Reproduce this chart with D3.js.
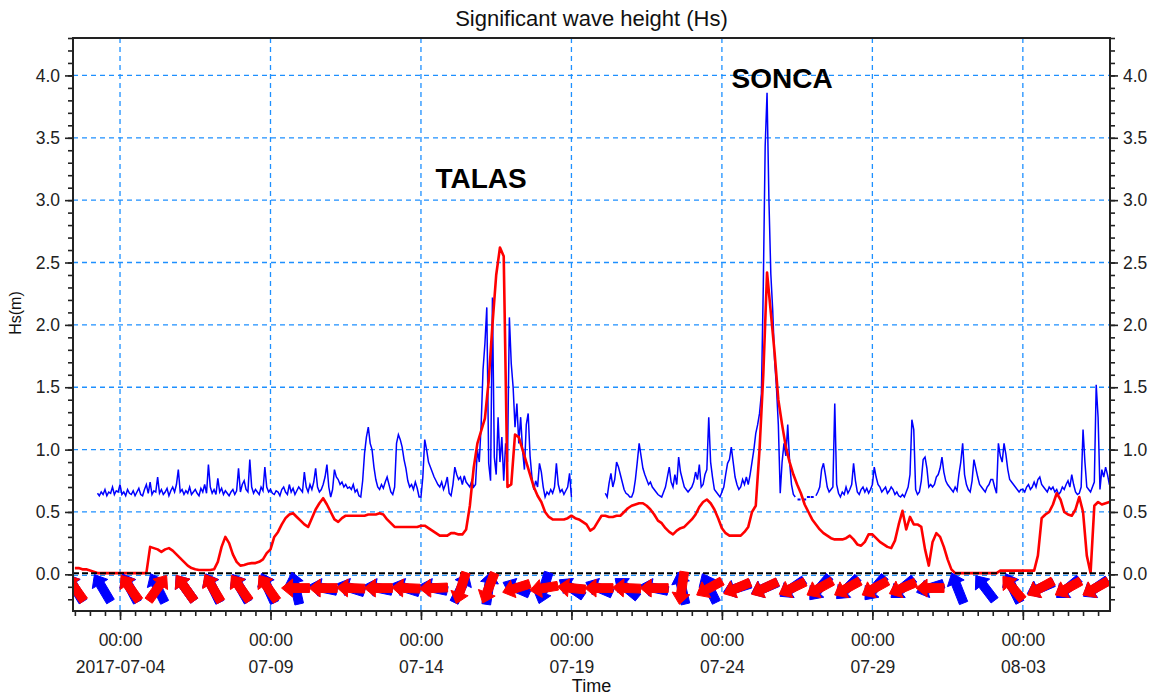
<!DOCTYPE html>
<html>
<head>
<meta charset="utf-8">
<script src="https://cdn.jsdelivr.net/npm/d3@7"></script>
<style>
  body { margin: 0; background: #fff; }
  svg { display: block; font-family: "Liberation Sans", Arial, sans-serif; }
</style>
</head>
<body>
<div id="chart"></div>
<script>
// Hs model (red), 3-hourly from 2017-07-02 12:00
const redStart = new Date(2017, 6, 2, 12);
const redStepHours = 3;
const redHs = [
  0.05, 0.05, 0.04, 0.04,
  0.03, 0.02, 0.01, 0.01, 0.01, 0.01, 0.01, 0.01,
  0.01, 0.01, 0.01, 0.01, 0.01, 0.01, 0.01, 0.01,
  0.22, 0.21, 0.2, 0.18, 0.2, 0.21, 0.19, 0.16,
  0.13, 0.1, 0.07, 0.05, 0.04, 0.035, 0.035, 0.035,
  0.035, 0.04, 0.1, 0.22, 0.3, 0.25, 0.16, 0.1,
  0.07, 0.075, 0.085, 0.09, 0.09, 0.1, 0.12, 0.17,
  0.2, 0.3, 0.34, 0.4, 0.45, 0.48, 0.49, 0.46,
  0.43, 0.4, 0.38, 0.45, 0.52, 0.57, 0.61, 0.56,
  0.5, 0.44, 0.42, 0.45, 0.47, 0.47, 0.47, 0.47,
  0.47, 0.47, 0.48, 0.48, 0.48, 0.49, 0.48, 0.44,
  0.41, 0.38, 0.38, 0.38, 0.38, 0.38, 0.38, 0.38,
  0.39, 0.39, 0.37, 0.35, 0.33, 0.31, 0.31, 0.31,
  0.33, 0.33, 0.32, 0.32, 0.36, 0.55, 0.85, 1.05,
  1.15, 1.25, 1.55, 2.0, 2.4, 2.62, 2.55, 0.7,
  0.72, 1.12, 1.1, 1.0, 0.9, 0.8, 0.7, 0.63,
  0.58, 0.5, 0.46, 0.44, 0.44, 0.44, 0.44, 0.45,
  0.47, 0.45, 0.44, 0.42, 0.4, 0.35, 0.37, 0.42,
  0.47, 0.47, 0.46, 0.46, 0.47, 0.47, 0.5, 0.53,
  0.55, 0.56, 0.57, 0.57, 0.55, 0.52, 0.48, 0.43,
  0.41, 0.37, 0.34, 0.32, 0.35, 0.37, 0.38, 0.41,
  0.44, 0.48, 0.54, 0.58, 0.6, 0.57, 0.52, 0.45,
  0.37, 0.33, 0.31, 0.31, 0.31, 0.31, 0.34, 0.38,
  0.5, 0.55, 1.0, 1.6, 2.42, 2.1, 1.78, 1.4,
  1.2, 1.02, 0.9, 0.8, 0.72, 0.65, 0.56, 0.5,
  0.44, 0.4, 0.36, 0.33, 0.31, 0.29, 0.28, 0.28,
  0.28, 0.29, 0.31, 0.28, 0.24, 0.23, 0.26, 0.32,
  0.32, 0.29, 0.26, 0.24, 0.22, 0.21, 0.27, 0.4,
  0.51, 0.36, 0.46, 0.4, 0.4, 0.38, 0.2, 0.07,
  0.26, 0.33, 0.3, 0.22, 0.12, 0.04, 0.01, 0.01,
  0.01, 0.01, 0.01, 0.01, 0.01, 0.01, 0.01, 0.01,
  0.01, 0.01, 0.03, 0.03, 0.03, 0.03, 0.03, 0.03,
  0.03, 0.03, 0.03, 0.03, 0.15, 0.45, 0.48, 0.5,
  0.56, 0.65, 0.6, 0.5, 0.48, 0.47, 0.52, 0.62,
  0.5, 0.15, 0.01, 0.55, 0.58, 0.56, 0.57, 0.58
];

// Hs measured (blue), every 1.5 h from 2017-07-03 06:00, null = no data
const blueStart = new Date(2017, 6, 3, 6);
const blueStepHours = 1.5;
const blueHs = [
  0.65, 0.63, 0.66, 0.64, 0.68, 0.63, 0.66, 0.65, 0.7, 0.64, 0.67, 0.66,
  0.72, 0.64, 0.66, 0.63, 0.68, 0.65, 0.64, 0.67, 0.63, 0.66, 0.69, 0.64, 0.63, 0.68, 0.72, 0.65,
  0.74, 0.64, 0.67, 0.66, 0.78, 0.65, 0.68, 0.64, 0.66, 0.69, 0.63, 0.67, 0.7, 0.66, 0.72, 0.84,
  0.66, 0.68, 0.64, 0.67, 0.65, 0.7, 0.64, 0.66, 0.68, 0.65, 0.63, 0.69, 0.66, 0.72, 0.65, 0.88,
  0.7, 0.65, 0.68, 0.64, 0.77, 0.66, 0.69, 0.64, 0.67, 0.65, 0.63, 0.66, 0.68, 0.64, 0.67, 0.85,
  0.66, 0.72, 0.75, 0.68, 0.66, 0.92, 0.7, 0.65, 0.68, 0.66, 0.64, 0.7, 0.67, 0.86, 0.7, 0.66,
  0.68, 0.65, 0.64, 0.67, 0.66, 0.63, 0.68, 0.7, 0.66, 0.64, 0.72, 0.66, 0.69, 0.64, 0.67, 0.7,
  0.68, 0.66, 0.82, 0.7, 0.66, 0.72, 0.68, 0.74, 0.85, 0.7, 0.66, 0.68, 0.72, 0.78, 0.88, 0.7,
  0.62, 0.68, 0.84, 0.78, 0.76, 0.72, 0.74, 0.7, 0.72, 0.69, 0.7, 0.68, 0.72, 0.66, 0.68, 0.63,
  0.62, 0.75, 0.97, 1.1, 1.18, 1.05, 1.0, 0.86, 0.76, 0.7, 0.68, 0.72, 0.69, 0.74, 0.78, 0.72,
  0.66, 0.64, 0.7, 1.05, 1.12, 1.08, 1.02, 0.92, 0.85, 0.75, 0.7, 0.72, 0.68, 0.74, 0.69, 0.62,
  0.62, 0.78, 1.08, 1.0, 0.9, 0.86, 0.82, 0.78, 0.75, 0.72, 0.7, 0.74, 0.68, 0.72, 0.78, 0.65,
  0.63, 0.72, 0.86, 0.8, 0.76, 0.78, 0.72, 0.79, 0.74, 0.72, 0.7, 0.75, 0.7, 0.72, 1.0, 0.9,
  1.2, 1.64, 1.85, 2.14, 0.89, 0.75, 2.22, 0.94, 0.8, 1.26, 0.9, 1.1, 0.75, 1.05, 0.9, 2.06,
  1.69, 1.5, 1.18, 1.37, 1.05, 1.26, 1.0, 0.84, 1.2, 1.29, 0.95, 0.78, 0.68, 0.75, 0.7, 0.89,
  0.82, 0.7, 0.62, 0.66, 0.64, 0.68, 0.65, 0.7, 0.89, 0.72, 0.66, 0.68, 0.64, 0.67, 0.7, 0.81,
  0.62, null, null, null, null, null, null, null, null, null, null, null, null, null, null, null,
  null, null, 0.65, 0.62, 0.73, 0.81, 0.7, 0.76, 0.9, 0.86, 0.8, 0.74, 0.68, 0.65, 0.64, 0.62,
  0.62, 0.66, 0.76, 0.9, 1.05, 0.95, 0.85, 0.8, 0.76, 0.72, 0.74, 0.7, 0.68, 0.66, 0.64, 0.63,
  0.62, 0.66, 0.7, 0.78, 0.86, 0.74, 0.7, 0.8, 0.72, 0.94, 0.82, 0.76, 0.7, 0.68, 0.66, 0.68,
  0.7, 0.74, 0.82, 0.76, 0.88, 0.7, 0.72, 0.8, 0.84, 1.26, 0.9, 0.78, 0.68, 0.66, 0.64, 0.62,
  0.66, 0.7, 0.8, 0.89, 0.92, 1.02, 0.9, 0.78, 0.72, 0.68, 0.7, 0.76, 0.72, 0.78, 0.72, 0.8,
  0.9, 1.0, 1.13, 1.2, 1.29, 1.45, 2.31, 3.43, 3.86, 3.0, 2.41, 2.12, 1.72, 1.5, 1.2, 0.65,
  0.9, 1.05, 0.95, 1.2, 0.9, 0.72, 0.64, 0.62, null, 0.6, null, null, 0.6, null, 0.62, null,
  0.62, null, 0.63, 0.66, 0.7, 0.84, 0.89, 0.8, 0.7, 0.66, 0.68, 0.7, 1.37, 0.72, 0.65, 0.62,
  0.66, 0.64, 0.7, 0.65, 0.68, 0.72, 0.89, 0.75, 0.66, 0.64, 0.68, 0.7, 0.66, 0.69, 0.65, 0.68,
  0.72, 0.86, 0.78, 0.72, 0.7, 0.66, 0.68, 0.7, 0.65, 0.67, 0.7, 0.68, 0.64, 0.66, 0.63, 0.62,
  0.64, 0.62, 0.66, 0.7, 0.8, 1.24, 1.16, 0.68, 0.64, 0.66, 0.75, 0.92, 0.94, 0.85, 0.7, 0.72,
  0.7, 0.72, 0.78, 0.8, 0.85, 0.94, 0.82, 0.75, 0.72, 0.7, 0.68, 0.66, 0.7, 0.67, 0.8, 0.9,
  1.05, 0.8, 0.72, 0.68, 0.66, 0.75, 0.92, 0.85, 0.78, 0.72, 0.7, 0.68, 0.66, 0.7, 0.72, 0.76,
  0.76, 0.7, 0.65, 1.05, 0.95, 0.9, 1.05, 0.96, 0.84, 0.76, 0.74, 0.72, 0.7, 0.68, 0.66, 0.68,
  0.68, 0.66, 0.7, 0.72, 0.68, 0.7, 0.74, 0.7, 0.76, 0.78, 0.72, 0.7, 0.68, 0.66, 0.7, 0.68,
  0.7, 0.66, 0.68, 0.64, 0.66, 0.7, 0.68, 0.72, 0.75, 0.7, 0.8, 0.72, 0.66, 0.64, 0.65, 0.7,
  1.16, 0.9, 0.7, 0.68, 0.66, 0.7, 0.74, 1.52, 1.26, 0.68, 0.84, 0.78, 0.86, 0.8, 0.72, 0.7
];

// wave direction arrows (degrees, direction travelling to), one every 22 h from 2017-07-02 12:00
const arrowStart = new Date(2017, 6, 2, 12);
const arrowStepHours = 22;
const redDir = [320, null, 320, 40, 320, 325, 320, 320, 270, 270, 272, 270, 272, 268,
  200, 205, 255, 262, 275, 270, 272, 270, 190, 245, 250, 248, 248, 245, 245, 245,
  250, 270, null, null, 315, 245, 245, 245];
const blueDir = [325, 325, 328, 330, 320, 330, 326, 332, 345, 280, 285, 280, 285, 280,
  30, 10, 290, 200, 300, 290, 305, 280, 345, 330, 255, 250, 240, 225, 230, 225,
  235, 255, 335, 318, 330, 250, 235, 240];

const yMajor = [0, 0.5, 1, 1.5, 2, 2.5, 3, 3.5, 4];
const xMajor = [new Date(2017, 6, 4), new Date(2017, 6, 9), new Date(2017, 6, 14),
  new Date(2017, 6, 19), new Date(2017, 6, 24), new Date(2017, 6, 29), new Date(2017, 7, 3)];
const xLabelTop = ['00:00', '00:00', '00:00', '00:00', '00:00', '00:00', '00:00'];
const xLabelBottom = ['2017-07-04', '07-09', '07-14', '07-19', '07-24', '07-29', '08-03'];

const storms = [
  {name: 'TALAS', t: new Date(2017, 6, 16, 0), v: 3.1},
  {name: 'SONCA', t: new Date(2017, 6, 26, 0), v: 3.9}
];

const width = 1157, height = 697;
const mLeft = 73, mRight = 1110, mTop = 38, mBottom = 611;

const svg = d3.select('#chart').append('svg')
  .attr('width', width)
  .attr('height', height);

const x = d3.scaleTime()
  .domain([new Date(2017, 6, 2, 10, 30), new Date(2017, 7, 5, 21, 30)])
  .range([mLeft, mRight]);
const y = d3.scaleLinear()
  .domain([-0.294, 4.3])
  .range([mBottom, mTop]);

svg.append('defs').append('clipPath').attr('id', 'plot')
  .append('rect')
  .attr('x', mLeft).attr('y', mTop)
  .attr('width', mRight - mLeft).attr('height', mBottom - mTop);

const gridColor = '#1e90ff';

// grid
const grid = svg.append('g');
grid.selectAll('.hg')
  .data(yMajor)
  .enter().append('line')
  .attr('x1', mLeft).attr('x2', mRight)
  .attr('y1', d => y(d) + (d === 0 ? 1 : 0))
  .attr('y2', d => y(d) + (d === 0 ? 1 : 0))
  .attr('stroke', gridColor)
  .attr('stroke-width', 1.3)
  .attr('stroke-dasharray', '5,4');
grid.selectAll('.vg')
  .data(xMajor)
  .enter().append('line')
  .attr('x1', d => x(d)).attr('x2', d => x(d))
  .attr('y1', mTop).attr('y2', mBottom)
  .attr('stroke', gridColor)
  .attr('stroke-width', 1.3)
  .attr('stroke-dasharray', '5,4');

const plot = svg.append('g').attr('clip-path', 'url(#plot)');

const toPoints = (start, stepH, values) =>
  values.map((v, i) => ({t: new Date(+start + i * stepH * 3600e3), v}));

const hsLine = d3.line()
  .defined(d => d.v != null)
  .x(d => x(d.t))
  .y(d => y(d.v));

const bluePts = toPoints(blueStart, blueStepHours, blueHs);
plot.append('path')
  .datum(bluePts)
  .attr('fill', 'none')
  .attr('stroke', '#0000ff')
  .attr('stroke-width', 1.5)
  .attr('d', hsLine);

// isolated blue points (sparse data)
plot.selectAll('.bdot')
  .data(bluePts.filter((d, i) => d.v != null &&
    (i === 0 || blueHs[i - 1] == null) && (i === blueHs.length - 1 || blueHs[i + 1] == null)))
  .enter().append('rect')
  .attr('x', d => x(d.t) - 1.5).attr('y', d => y(d.v) - 1)
  .attr('width', 3).attr('height', 2)
  .attr('fill', '#0000ff');

plot.append('path')
  .datum(toPoints(redStart, redStepHours, redHs))
  .attr('fill', 'none')
  .attr('stroke', '#ff0000')
  .attr('stroke-width', 2.6)
  .attr('stroke-linejoin', 'round')
  .attr('d', hsLine);

// zero line
plot.append('line')
  .attr('x1', mLeft).attr('x2', mRight)
  .attr('y1', y(0) - 1).attr('y2', y(0) - 1)
  .attr('stroke', '#000')
  .attr('stroke-width', 2)
  .attr('stroke-dasharray', '6,3');

// direction arrows
function arrowPoints(cx, cy, deg) {
  const a = deg * Math.PI / 180;
  const vx = 14 * Math.sin(a), vy = -16.5 * Math.cos(a);
  const len = Math.hypot(vx, vy);
  const ux = vx / len, uy = vy / len;
  const nx = -uy, ny = ux;
  const tip = [cx + vx, cy + vy];
  const tail = [cx - vx, cy - vy];
  const neck = [tip[0] - ux * 11, tip[1] - uy * 11];
  const w = 4.4, hw = 9;
  const pts = [
    [tail[0] + nx * w, tail[1] + ny * w],
    [neck[0] + nx * w, neck[1] + ny * w],
    [neck[0] + nx * hw, neck[1] + ny * hw],
    tip,
    [neck[0] - nx * hw, neck[1] - ny * hw],
    [neck[0] - nx * w, neck[1] - ny * w],
    [tail[0] - nx * w, tail[1] - ny * w]
  ];
  return pts.map(p => p.join(',')).join(' ');
}

const arrowY = y(-0.11);
function drawArrows(dirs, color) {
  plot.append('g').selectAll('polygon')
    .data(dirs.map((d, i) => ({t: d3.timeHour.offset(arrowStart, arrowStepHours * i), d}))
      .filter(d => d.d != null))
    .enter().append('polygon')
    .attr('points', d => arrowPoints(x(d.t), arrowY, d.d))
    .attr('fill', color)
    .attr('stroke', color)
    .attr('stroke-width', 1)
    .attr('stroke-linejoin', 'round');
}
drawArrows(blueDir, '#0000ff');
drawArrows(redDir, '#ff0000');

// axes
const axisColor = '#222';
const fmt = d3.format('.1f');
const yMinor = d3.range(-2, 44).map(i => i / 10).filter(v => v >= -0.29 && v <= 4.3);

function styleAxis(g) {
  g.select('.domain').remove();
  g.selectAll('line').attr('stroke', axisColor).attr('stroke-width', 1.6);
  g.selectAll('text').attr('fill', '#222').attr('font-size', 17.5)
    .attr('font-family', '"Liberation Sans", Arial, sans-serif');
}

svg.append('g').attr('transform', `translate(${mLeft},0)`)
  .call(d3.axisLeft(y).tickValues(yMinor).tickSize(5).tickFormat(''))
  .call(styleAxis);
svg.append('g').attr('transform', `translate(${mLeft},0)`)
  .call(d3.axisLeft(y).tickValues(yMajor).tickSize(8).tickPadding(5).tickFormat(fmt))
  .call(styleAxis);
svg.append('g').attr('transform', `translate(${mRight},0)`)
  .call(d3.axisRight(y).tickValues(yMinor).tickSize(5).tickFormat(''))
  .call(styleAxis);
svg.append('g').attr('transform', `translate(${mRight},0)`)
  .call(d3.axisRight(y).tickValues(yMajor).tickSize(8).tickPadding(5).tickFormat(fmt))
  .call(styleAxis);

const xMinor = d3.timeHour.every(12).range(x.domain()[0], x.domain()[1]);
svg.append('g').attr('transform', `translate(0,${mBottom})`)
  .call(d3.axisBottom(x).tickValues(xMinor).tickSize(5).tickFormat(''))
  .call(styleAxis);
const xAxisG = svg.append('g').attr('transform', `translate(0,${mBottom})`)
  .call(d3.axisBottom(x).tickValues(xMajor).tickSize(9).tickFormat(''))
  .call(styleAxis);
xAxisG.selectAll('.tick').each(function(d, i) {
  const t = d3.select(this).append('text')
    .attr('fill', '#222')
    .attr('font-size', 17.5)
    .attr('text-anchor', 'middle');
  t.append('tspan').attr('x', 0).attr('y', 35).text(xLabelTop[i]);
  t.append('tspan').attr('x', 0).attr('y', 62).text(xLabelBottom[i]);
});

// frame
svg.append('rect')
  .attr('x', mLeft).attr('y', mTop)
  .attr('width', mRight - mLeft).attr('height', mBottom - mTop)
  .attr('fill', 'none')
  .attr('stroke', axisColor)
  .attr('stroke-width', 2);

// labels
svg.append('text')
  .attr('x', (mLeft + mRight) / 2).attr('y', 26)
  .attr('text-anchor', 'middle')
  .attr('font-size', 22)
  .attr('fill', '#111')
  .text('Significant wave height (Hs)');

svg.append('text')
  .attr('x', (mLeft + mRight) / 2).attr('y', 692)
  .attr('text-anchor', 'middle')
  .attr('font-size', 18)
  .attr('fill', '#111')
  .text('Time');

svg.append('text')
  .attr('transform', 'translate(21,313) rotate(-90)')
  .attr('text-anchor', 'middle')
  .attr('font-size', 16)
  .attr('fill', '#111')
  .text('Hs(m)');

svg.selectAll('.storm')
  .data(storms)
  .enter().append('text')
  .attr('x', d => x(d.t)).attr('y', d => y(d.v))
  .attr('text-anchor', 'middle')
  .attr('font-size', 28)
  .attr('font-weight', 'bold')
  .attr('fill', '#000')
  .text(d => d.name);
</script>
</body>
</html>
